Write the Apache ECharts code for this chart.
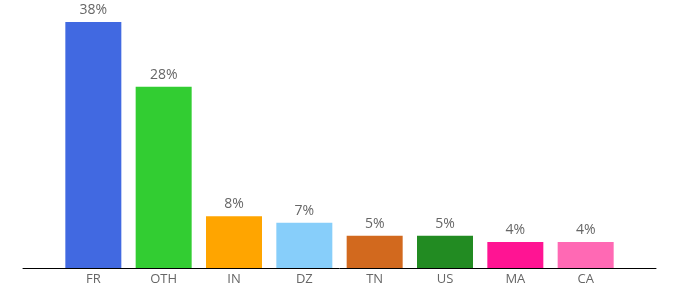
<!DOCTYPE html>
<html>
<head>
<meta charset="utf-8">
<script src="https://cdn.jsdelivr.net/npm/echarts@6/dist/echarts.min.js"></script>
<style>html,body{margin:0;padding:0;background:#fff;}#c{width:680px;height:300px;}</style>
</head>
<body>
<div id="c"></div>
<script>
const categories = ['FR', 'OTH', 'IN', 'DZ', 'TN', 'US', 'MA', 'CA'];
const values = [38, 28, 8, 7, 5, 5, 4, 4];
const colors = ['#4169E1', '#32CD32', '#FFA500', '#87CEFA', '#D2691E', '#228B22', '#FF1493', '#FF69B4'];

const axisCats = [''].concat(categories, ['']);
const barData = [null].concat(values.map((v, i) => ({ value: v, itemStyle: { color: colors[i] } })), [null]);

const chart = echarts.init(document.getElementById('c'), null, { renderer: 'canvas' });
chart.setOption({
  animation: false,
  grid: { left: 23, right: 24, top: 22, bottom: 32 },
  xAxis: {
    type: 'category',
    data: axisCats,
    boundaryGap: false,
    axisLine: { lineStyle: { color: '#000', width: 1 } },
    axisTick: { show: false },
    axisLabel: { color: '#666', fontSize: 13, fontFamily: 'Open Sans', margin: 5, interval: 0 },
    splitLine: { show: false }
  },
  yAxis: { type: 'value', min: 0, max: 38, show: false, splitLine: { show: false } },
  series: [{
    type: 'bar',
    data: barData,
    barWidth: 56,
    label: {
      show: true, position: 'top', distance: 5,
      formatter: '{c}%', color: '#666', fontSize: 14, fontFamily: 'Open Sans'
    }
  }]
});
</script>
</body>
</html>
